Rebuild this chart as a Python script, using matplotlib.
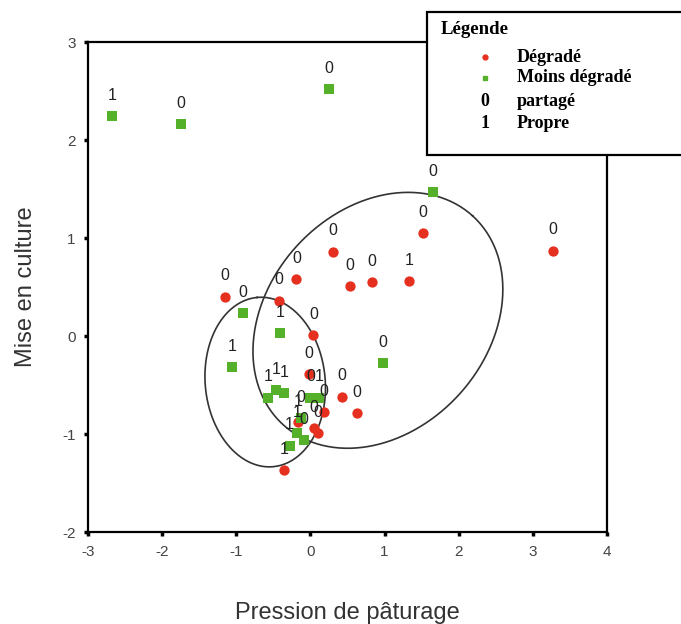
import numpy as np
import matplotlib
matplotlib.use("Agg")
import matplotlib.pyplot as plt
from matplotlib.patches import Rectangle
from matplotlib.lines import Line2D

plt.rcParams["axes.unicode_minus"] = False

# ---- data ----
deg_x = [-1.15, -0.42, -0.19, 0.30, 0.53, 0.83, 1.33, 1.52, 3.27, 0.04,
         -0.02, 0.43, 0.63, 0.18, -0.17, 0.05, 0.10, -0.36]
deg_y = [0.40, 0.36, 0.58, 0.86, 0.51, 0.55, 0.56, 1.05, 0.87, 0.01,
         -0.39, -0.62, -0.79, -0.78, -0.88, -0.94, -0.99, -1.37]
deg_lab = ["0", "0", "0", "0", "0", "0", "1", "0", "0", "0",
           "0", "0", "0", "0", "1", "0", "0", "1"]

moins_x = [-2.68, -1.75, 0.25, 1.65, -0.91, -0.41, -1.06, 0.98, -0.57, -0.46,
           -0.36, 0.00, 0.12, -0.13, -0.18, -0.09, -0.28]
moins_y = [2.24, 2.16, 2.52, 1.47, 0.23, 0.03, -0.32, -0.28, -0.63, -0.55,
           -0.58, -0.63, -0.63, -0.84, -0.99, -1.06, -1.12]
moins_lab = ["1", "0", "0", "0", "0", "1", "1", "0", "1", "1",
             "1", "0", "1", "0", "1", "0", "1"]

x_ticks = [-3, -2, -1, 0, 1, 2, 3, 4]
y_ticks = [-2, -1, 0, 1, 2, 3]

# ellipses: centre (data), semi-axes (px), angle (deg)
ell_big = dict(cx=0.91, cy=0.16, a=141, b=110, ang=47.8)
ell_small = dict(cx=-0.61, cy=-0.47, a=85, b=60, ang=95.5)

legend_items = [("Dégradé", "red"), ("Moins dégradé", "green"),
                ("0", "partagé"), ("1", "Propre")]

RED = "#e6301f"
GREEN = "#55b02a"

fig = plt.figure(figsize=(6.81, 6.24), dpi=100)
W, H = 681, 624
ax = fig.add_axes([88 / W, 1 - 532 / H, (607 - 88) / W, (532 - 42) / H])
ax.set_xlim(-3, 4)
ax.set_ylim(-2, 3)

ax.scatter(deg_x, deg_y, s=55, marker="o", color=RED, zorder=3, linewidths=0)
ax.scatter(moins_x, moins_y, s=42, marker="s", color=GREEN, zorder=3, linewidths=0)
for xs, ys, ls in ((deg_x, deg_y, deg_lab), (moins_x, moins_y, moins_lab)):
    for x, y, l in zip(xs, ys, ls):
        ax.annotate(l, (x, y), xytext=(0, 15), textcoords="offset points",
                    ha="center", va="center", fontsize=11.5, color="#222222",
                    family="Liberation Sans", zorder=4)

# ellipses drawn through pixel-to-data scale
sx = (607 - 88) / 7.0
sy = (532 - 42) / 5.0
t = np.linspace(0, 2 * np.pi, 400)
for e in (ell_big, ell_small):
    th = np.deg2rad(e["ang"])
    dx = e["a"] * np.cos(t) * np.cos(th) - e["b"] * np.sin(t) * np.sin(th)
    dy = e["a"] * np.cos(t) * np.sin(th) + e["b"] * np.sin(t) * np.cos(th)
    ax.plot(e["cx"] + dx / sx, e["cy"] + dy / sy, color="#333333", lw=1.2, zorder=2)

ax.set_xticks(x_ticks)
ax.set_yticks(y_ticks)
ax.tick_params(direction="out", length=3, width=2.5, color="black",
               labelsize=11, labelcolor="#444444", pad=6)
for lab in ax.get_xticklabels() + ax.get_yticklabels():
    lab.set_family("Liberation Sans")
for s in ax.spines.values():
    s.set_linewidth(1.6)

ax.set_xlabel("Pression de pâturage", fontsize=17, family="Liberation Sans",
              color="#333333", labelpad=31)
ax.set_ylabel("Mise en culture", fontsize=17, family="Liberation Sans",
              color="#333333", labelpad=18)

# legend box
fig.patches.append(Rectangle((427 / W, 1 - 155 / H), 300 / W, (155 - 12) / H,
                             transform=fig.transFigure, facecolor="white",
                             edgecolor="black", lw=1.6, zorder=10))
fig.text(441 / W, 1 - 30 / H, "Légende", family="Liberation Serif", weight="bold",
         fontsize=13.5, va="center", ha="left", zorder=11)
rows = [57, 78, 101, 124]
for (txt, key), r in zip(legend_items, rows):
    yy = 1 - r / H
    if key == "red":
        fig.lines.append(Line2D([485 / W], [yy], marker="o", ms=3.5, color=RED,
                                lw=0, transform=fig.transFigure, zorder=11))
    elif key == "green":
        fig.lines.append(Line2D([485 / W], [yy], marker="s", ms=3.5, color=GREEN,
                                lw=0, transform=fig.transFigure, zorder=11))
    else:
        fig.text(485 / W, yy, txt, family="Liberation Serif", weight="bold",
                 fontsize=13, va="center", ha="center", zorder=11)
        txt = key
    fig.text(517 / W, yy, txt, family="Liberation Serif", weight="bold",
             fontsize=13, va="center", ha="left", zorder=11)

fig.savefig("out.png", dpi=100)
